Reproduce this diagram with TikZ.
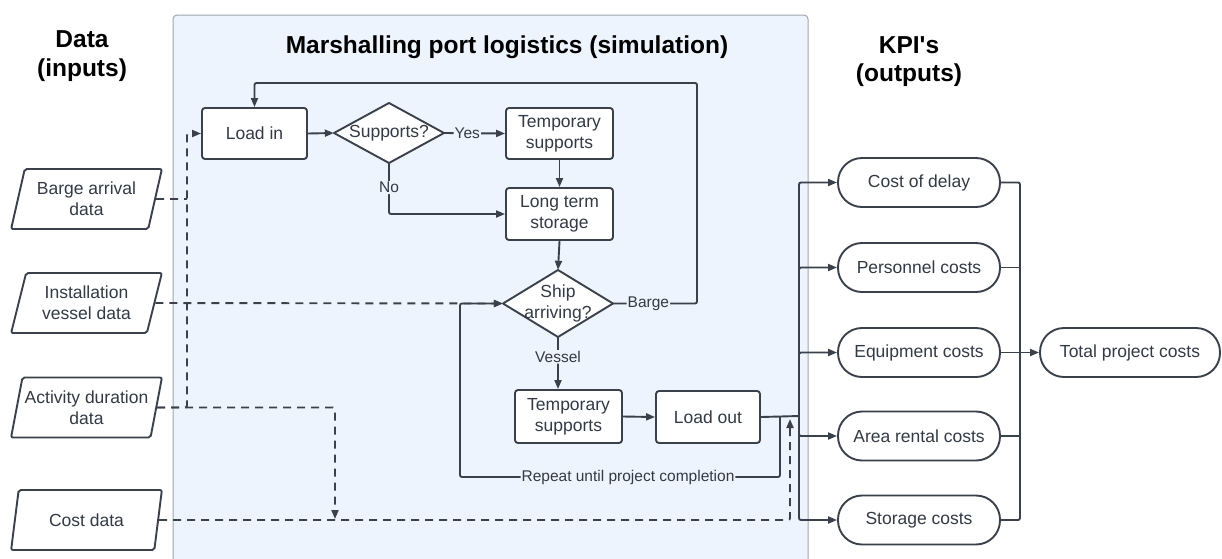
\documentclass[tikz,border=0pt]{standalone}
\usepackage{fontspec}
\setmainfont{Liberation Sans}
\usetikzlibrary{arrows.meta,shapes.geometric,calc}
\definecolor{ln}{HTML}{3A414A}
\definecolor{tx}{HTML}{333A44}
\definecolor{pbg}{HTML}{EDF4FE}
\definecolor{pbd}{HTML}{A0A6AD}
\begin{document}
\begin{tikzpicture}[x=1pt,y=-1pt,
  conn/.style={draw=ln,line width=1.9pt,rounded corners=2pt},
  arr/.style={conn,-{Triangle[length=9pt,width=7pt]}},
  dsh/.style={conn,dash pattern=on 8pt off 6pt},
  darr/.style={dsh,-{Triangle[length=9pt,width=7pt]}},
  txt/.style={text=tx,align=center,font=\fontsize{17.5}{21}\selectfont,inner sep=0pt},
  box/.style={txt,draw=ln,line width=1.9pt,fill=white,rounded corners=3pt,minimum width=105pt,minimum height=51pt},
  para/.style={txt,draw=ln,line width=1.9pt,fill=white,trapezium,trapezium left angle=72,trapezium right angle=108,trapezium stretches=true,minimum width=151pt,minimum height=60pt,rounded corners=2pt},
  kpi/.style={txt,draw=ln,line width=1.9pt,fill=white,rounded corners=24pt,minimum width=162pt,minimum height=49pt},
  dia/.style={draw=ln,line width=1.9pt,fill=white,line join=round},
  lbl/.style={text=tx,fill=pbg,inner sep=1pt,font=\fontsize{15.5}{18}\selectfont},
  title/.style={text=black,font=\bfseries\fontsize{24.5}{29}\selectfont,inner sep=0pt,anchor=base}
]
\useasboundingbox (0,0) rectangle (1222,558);
% panel
\filldraw[fill=pbg,draw=pbd,line width=1pt,rounded corners=4pt] (173,562) -- (173,15) -- (808,15) -- (808,562);
% titles
\node[title] (td1) at (82,47) {Data};
\node[title] (td2) at (82,76) {(inputs)};
\node[title] (tm) at (507,53) {Marshalling port logistics (simulation)};
\node[title] (tk1) at (909,53) {KPI\textquotesingle s};
\node[title] (tk2) at (909,81) {(outputs)};
% data inputs
\node[para] (barge) at (86.5,199) {Barge arrival\\data};
\node[para] (inst) at (86.5,303) {Installation\\vessel data};
\node[para] (act) at (86.5,407.5) {Activity duration\\data};
\node[para] (cost) at (86.5,520) {Cost data};
% process
\node[box] (loadin) at (254.5,133.5) {Load in};
\coordinate (supc) at (389,133);
\draw[dia] ($(supc)+(-55,0)$) -- ($(supc)+(0,-30)$) -- ($(supc)+(55,0)$) -- ($(supc)+(0,30)$) -- cycle;
\node[txt,minimum width=110pt,minimum height=60pt] (sup) at (supc) {Supports?};
\node[box,minimum width=107pt] (ts1) at (559.5,133.5) {Temporary\\supports};
\node[box,minimum width=107pt,minimum height=52pt] (lts) at (559.5,214) {Long term\\storage};
\coordinate (shipc) at (558,303.5);
\draw[dia] ($(shipc)+(-55,0)$) -- ($(shipc)+(0,-33.5)$) -- ($(shipc)+(55,0)$) -- ($(shipc)+(0,33.5)$) -- cycle;
\node[txt,minimum width=110pt,minimum height=67pt] (ship) at (shipc) {Ship\\arriving?};
\node[box,minimum width=107pt,minimum height=53pt] (ts2) at (568.5,416.5) {Temporary\\supports};
\node[box,minimum width=104pt,minimum height=52pt] (lo) at (708,417) {Load out};
% KPIs
\node[kpi] (k1) at (919,182.5) {Cost of delay};
\node[kpi] (k2) at (919,267.5) {Personnel costs};
\node[kpi] (k3) at (919,352.5) {Equipment costs};
\node[kpi] (k4) at (919,436) {Area rental costs};
\node[kpi] (k5) at (919,520) {Storage costs};
\node[kpi,minimum width=180pt] (tot) at (1130,352.5) {Total project costs};
% coordinates
\coordinate (j1) at (187,133.5);
\coordinate (jb) at (187,199);
\coordinate (j2) at (335,519);
\coordinate (j3) at (790,419);
\coordinate (c1) at (697,303.5);
\coordinate (c2) at (697,83);
\coordinate (t0) at (799,416);
\coordinate (r0) at (780,416);
\coordinate (r1) at (780,477);
\coordinate (r2) at (460,477);
\coordinate (r3) at (460,303.5);
\coordinate (rt1) at (1020,182.5);
\coordinate (rt5) at (1020,520);
% dashed data flows
\draw[dsh] (barge.east) -- (jb);
\draw[darr] (act.east) -| (j1) -- (loadin.west);
\draw[darr] (inst.east) -- (ship.west);
\draw[darr] (act.east) -| (j2);
\draw[darr] (cost.east) -| (j3);
% process flows
\draw[arr] (loadin.east) -- (sup.west);
\draw[arr] (sup.east) -- node[lbl,pos=0.38] {Yes} (ts1.west);
\draw[arr] (sup.south) |- node[lbl,pos=0.24] {No} (lts.west);
\draw[arr] (ts1.south) -- (lts.north);
\draw[arr] (lts.south) -- (ship.north);
\draw[arr] (ship.east) -- node[lbl,pos=0.42] {Barge} (c1) -- (c2) -| (loadin.north);
\draw[arr] (ship.south) -- node[lbl,pos=0.38] {Vessel} (ship.south |- ts2.north);
\draw[arr] (ts2.east) -- (lo.west);
\draw[conn] (lo.east) -- (t0);
\draw[arr] (r0) -- (r1) -- node[lbl,pos=0.475] {Repeat until project completion} (r2) -- (r3) -- (ship.west);
% KPI connectors
\foreach \k in {k1,k2,k3,k4,k5} \draw[arr] (t0) |- (\k.west);
\draw[conn] (k1.east) -- (rt1) -- (rt5) -- (k5.east);
\foreach \k in {k2,k3,k4} \draw[conn] (\k.east) -- (\k.east -| rt1);
\draw[arr] (k3.east) -- (tot.west);
\end{tikzpicture}
\end{document}
